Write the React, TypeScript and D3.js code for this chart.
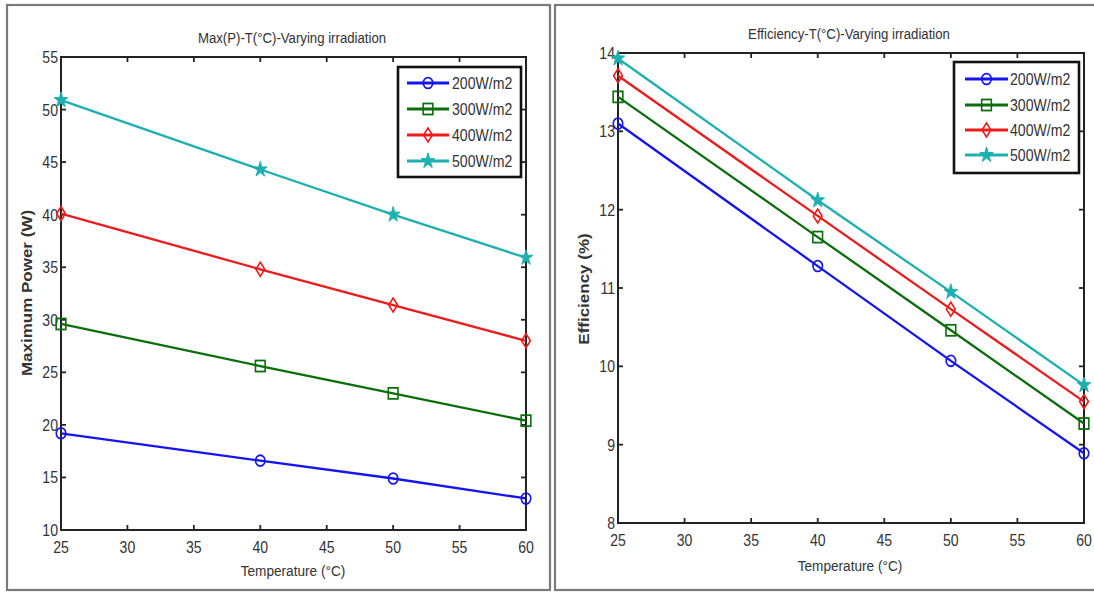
import React from "react";
import * as d3 from "d3";

// Temperatures (°C) at which the module was evaluated
const temps = [25, 40, 50, 60];
const seriesNames = ["200W/m2", "300W/m2", "400W/m2", "500W/m2"];

// Maximum power (W) per irradiation level
const power200 = [19.2, 16.6, 14.9, 13.0];
const power300 = [29.6, 25.6, 23.0, 20.4];
const power400 = [40.1, 34.8, 31.4, 28.0];
const power500 = [50.9, 44.3, 40.0, 35.9];

// Efficiency (%) per irradiation level
const eff200 = [13.1, 11.28, 10.07, 8.89];
const eff300 = [13.44, 11.65, 10.46, 9.27];
const eff400 = [13.71, 11.92, 10.73, 9.55];
const eff500 = [13.93, 12.12, 10.95, 9.76];

const xTicks = [25, 30, 35, 40, 45, 50, 55, 60];
const powerTicks = [10, 15, 20, 25, 30, 35, 40, 45, 50, 55];
const effTicks = [8, 9, 10, 11, 12, 13, 14];

const colors = ["#1414f0", "#0a6e0a", "#ec1c1c", "#1cb0b0"];
const markerTypes = ["circle", "square", "diamond", "star"];

const FONT = "'Liberation Sans', Arial, sans-serif";
const TEXT = "#333";
// glyphs are drawn slightly condensed horizontally
const SX = 0.88;

function Label({
  x,
  y,
  size,
  anchor = "start",
  rotate = false,
  bold = false,
  children,
}: {
  x: number;
  y: number;
  size: number;
  anchor?: string;
  rotate?: boolean;
  bold?: boolean;
  children: React.ReactNode;
}) {
  const tf = rotate ? `translate(${x},${y}) scale(${SX},1) rotate(-90)` : `translate(${x},${y}) scale(${SX},1)`;
  return (
    <text
      transform={tf}
      textAnchor={anchor}
      fontSize={size}
      fontWeight={bold ? "bold" : "normal"}
      fill={TEXT}
      fontFamily={FONT}
    >
      {children}
    </text>
  );
}

function Marker({ type, x, y, color }: { type: string; x: number; y: number; color: string }) {
  const sw = 1.8;
  let shape: React.ReactNode;
  if (type === "circle") shape = <circle r={5.4} fill="none" stroke={color} strokeWidth={sw} />;
  else if (type === "square") shape = <rect x={-5.5} y={-5.5} width={11} height={11} fill="none" stroke={color} strokeWidth={sw} />;
  else if (type === "diamond") shape = <path d="M0,-7L5,0L0,7L-5,0Z" fill="none" stroke={color} strokeWidth={sw} />;
  else {
    const star = d3.symbol().type(d3.symbolStar).size(75)();
    shape = <path d={star || ""} fill={color} stroke={color} strokeWidth={1} />;
  }
  return <g transform={`translate(${x},${y}) scale(${SX},1)`}>{shape}</g>;
}

type Panel = {
  frame: [number, number, number, number];
  plot: { x0: number; x1: number; y0: number; y1: number };
  yDomain: [number, number];
  yTicks: number[];
  series: number[][];
  title: string;
  titlePos: [number, number];
  xLabelPos: [number, number];
  yLabel: string;
  yLabelPos: [number, number];
  legend: { x0: number; x1: number; y0: number; y1: number; rows: number[]; lx0: number; lx1: number; tx: number };
};

const panels: Panel[] = [
  {
    frame: [7, 5, 550, 590],
    plot: { x0: 61, x1: 526, y0: 57, y1: 530 },
    yDomain: [10, 55],
    yTicks: powerTicks,
    series: [power200, power300, power400, power500],
    title: "Max(P)-T(°C)-Varying irradiation",
    titlePos: [292, 43],
    xLabelPos: [293, 576],
    yLabel: "Maximum Power (W)",
    yLabelPos: [32, 293],
    legend: { x0: 398, x1: 521, y0: 67, y1: 177, rows: [83, 109, 135, 161], lx0: 407, lx1: 449, tx: 452 },
  },
  {
    frame: [555, 5, 1104, 590],
    plot: { x0: 618, x1: 1084, y0: 53, y1: 523 },
    yDomain: [8, 14],
    yTicks: effTicks,
    series: [eff200, eff300, eff400, eff500],
    title: "Efficiency-T(°C)-Varying irradiation",
    titlePos: [849, 39],
    xLabelPos: [850, 571],
    yLabel: "Efficiency (%)",
    yLabelPos: [589, 289],
    legend: { x0: 954, x1: 1079, y0: 62, y1: 173, rows: [79, 105, 130, 155], lx0: 965, lx1: 1008, tx: 1010 },
  },
];

function ChartPanel({ p }: { p: Panel }) {
  const { x0, x1, y0, y1 } = p.plot;
  const x = d3.scaleLinear().domain([25, 60]).range([x0, x1]);
  const y = d3.scaleLinear().domain(p.yDomain).range([y1, y0]);
  const line = d3
    .line<number>()
    .x((_, i) => x(temps[i]))
    .y((v) => y(v));
  const tl = 5;
  const [fx0, fy0, fx1, fy1] = p.frame;
  const lg = p.legend;
  return (
    <g>
      <rect x={fx0} y={fy0} width={fx1 - fx0} height={fy1 - fy0} fill="#fff" stroke="#7a7a7a" strokeWidth={2.2} />
      <Label x={p.titlePos[0]} y={p.titlePos[1]} size={15} anchor="middle">
        {p.title}
      </Label>
      {/* ticks on all four sides, pointing inward */}
      {xTicks.map((t) => (
        <g key={"xt" + t}>
          <line x1={x(t)} x2={x(t)} y1={y1} y2={y1 - tl} stroke="#222" strokeWidth={1.8} />
          <line x1={x(t)} x2={x(t)} y1={y0} y2={y0 + tl} stroke="#222" strokeWidth={1.8} />
          <Label x={x(t)} y={y1 + 23} size={16} anchor="middle">
            {t}
          </Label>
        </g>
      ))}
      {p.yTicks.map((t) => (
        <g key={"yt" + t}>
          <line x1={x0} x2={x0 + tl} y1={y(t)} y2={y(t)} stroke="#222" strokeWidth={1.8} />
          <line x1={x1} x2={x1 - tl} y1={y(t)} y2={y(t)} stroke="#222" strokeWidth={1.8} />
          <Label x={x0 - 3} y={y(t) + 6} size={16} anchor="end">
            {t}
          </Label>
        </g>
      ))}
      <rect x={x0} y={y0} width={x1 - x0} height={y1 - y0} fill="none" stroke="#222" strokeWidth={2} />
      {p.series.map((s, i) => (
        <g key={"s" + i}>
          <path d={line(s) || ""} fill="none" stroke={colors[i]} strokeWidth={2.3} />
          {s.map((v, j) => (
            <Marker key={j} type={markerTypes[i]} x={x(temps[j])} y={y(v)} color={colors[i]} />
          ))}
        </g>
      ))}
      <Label x={p.xLabelPos[0]} y={p.xLabelPos[1]} size={15.5} anchor="middle">
        Temperature (°C)
      </Label>
      <Label x={p.yLabelPos[0]} y={p.yLabelPos[1]} size={17} anchor="middle" rotate bold>
        {p.yLabel}
      </Label>
      {/* legend */}
      <rect x={lg.x0} y={lg.y0} width={lg.x1 - lg.x0} height={lg.y1 - lg.y0} fill="#fff" stroke="#111" strokeWidth={2.6} />
      {seriesNames.map((n, i) => (
        <g key={"lg" + i}>
          <line x1={lg.lx0} x2={lg.lx1} y1={lg.rows[i]} y2={lg.rows[i]} stroke={colors[i]} strokeWidth={3.2} />
          <Marker type={markerTypes[i]} x={(lg.lx0 + lg.lx1) / 2} y={lg.rows[i]} color={colors[i]} />
          <Label x={lg.tx} y={lg.rows[i] + 6} size={16}>
            {n}
          </Label>
        </g>
      ))}
    </g>
  );
}

export default function App() {
  return (
    <svg
      width={1094}
      height={592}
      viewBox="0 0 1094 592"
      style={{ position: "absolute", left: 0, top: 0, background: "#fff" }}
    >
      <rect x={0} y={0} width={1094} height={592} fill="#fff" />
      {panels.map((p, i) => (
        <ChartPanel key={i} p={p} />
      ))}
    </svg>
  );
}
